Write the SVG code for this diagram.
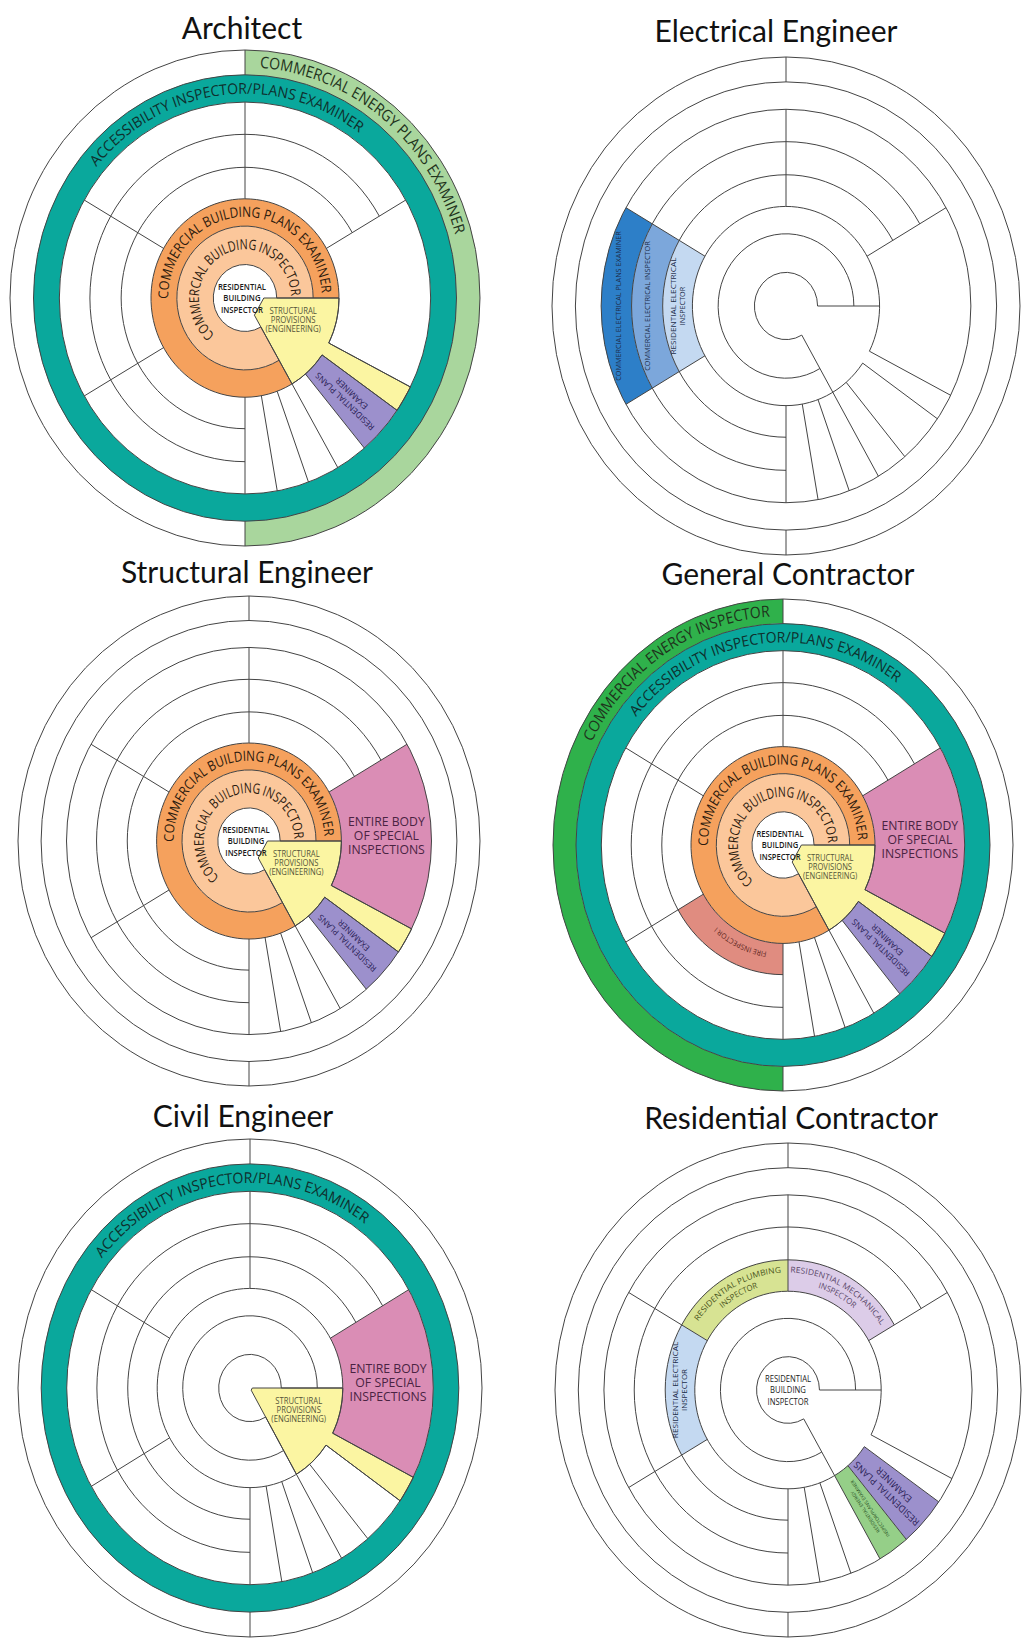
<svg xmlns="http://www.w3.org/2000/svg" width="1029" height="1648" viewBox="0 0 1029 1648">
<style>
.title{font-family:Lato,"Open Sans",sans-serif;font-size:30px;fill:#111;text-anchor:middle}
.ln circle,.ln path,.ed{fill:none;stroke:#444;stroke-width:1;vector-effect:non-scaling-stroke}
.b{fill:none;stroke-linecap:butt}
.lb{font-family:"Open Sans","Liberation Sans",sans-serif;text-anchor:middle}
.ctr{font-family:"Open Sans","Liberation Sans",sans-serif;font-weight:600;font-size:3.3px;fill:#1a1a1a;text-anchor:middle}
.cTeal{stroke:#0aa89c}
.cGr1{stroke:#a9d69d}
.cGr2{stroke:#2fb14b}
.cOr{stroke:#f5a15d}
.cLo{stroke:#fbc79b}
.cPu{stroke:#9c90cc}
.cPk{stroke:#da8db5}
.cFi{stroke:#e08c80}
.cB1{stroke:#2d7fc8}
.cB2{stroke:#7ca7db}
.cB3{stroke:#c4d9f1}
.cPl{stroke:#d7e393}
.cMe{stroke:#dccce8}
.cGn{stroke:#95cf88}
.yel{fill:#fbf5a2;stroke:#444;stroke-width:1;vector-effect:non-scaling-stroke}
.tAcc{font-size:6px;fill:#0f2f2d}
.tEn{font-size:6.4px;fill:#1f331c}
.tOr{font-size:5.8px;fill:#2b1a0e}
.tSt{font-size:3.3px;fill:#55553a}
.tPk{font-size:5.3px;fill:#4a2342}
.tPu{font-size:3.5px;fill:#2a2156}
.tBl{font-size:2.9px;fill:#1d2d4a}
</style>
<defs>
<g id="grid" class="ln">
<circle r="100"/><circle r="90"/><circle r="79"/>
<path d="M0,66 A66,66 0 1 1 57.16,-33 M0,52.7 A52.7,52.7 0 1 1 45.64,-26.35 M32.77,22.94 A40,40 0 1 1 35.64,18.16 M14.5,25.11 A29,29 0 1 1 29,0 M6.75,11.69 A13.5,13.5 0 1 1 13.5,0 M0,-100 L0,-90 M0,90 L0,100 M0,-79 L0,-40 M0,40 L0,79 M34.64,-20 L68.41,-39.5 M13.5,0 L40,0 M35.64,18.16 L70.39,35.87 M32.77,22.94 L64.72,45.31 M25.71,30.64 L50.78,60.51 M6.75,11.69 L39.5,68.41 M13.68,37.59 L27.02,74.24 M6.95,39.39 L13.72,77.8 M-34.64,20 L-68.41,39.5 M-34.64,-20 L-68.41,-39.5"/>
</g>
<path id="pEnR" d="M-61.02,-70.19 A93,93 0 0 1 81.34,45.09"/>
<path id="pEnL" d="M-85.36,36.93 A93,93 0 0 1 67.57,-63.9"/>
<path id="pAcc" d="M-82.28,-4.31 A82.4,82.4 0 0 1 78.8,-24.09"/>
<path id="pCbpe" d="M-31.98,6.8 A32.7,32.7 0 1 1 32.38,4.55"/>
<path id="pCbi" d="M-11.1,16.15 A19.6,19.6 0 1 1 19.54,1.54"/>
<path id="pT476" d="M-47.6,0 A47.6,47.6 0 0 1 47.6,0"/>
<path id="pT436" d="M-43.4,0 A43.4,43.4 0 0 1 43.4,0"/>
<path id="pB44" d="M44,0 A44,44 0 0 1 -44,0"/>
</defs>

<g id="architect">
<text class="title" x="242" y="39">Architect</text>
<g transform="translate(245,298) scale(2.35,2.48)">
<path class="b cGr1" d="M0,-95 A95,95 0 0 1 0,95" stroke-width="10"/>
<circle class="b cTeal" r="84.5" stroke-width="11"/>
<path class="b cOr" d="M17.25,29.88 A34.5,34.5 0 1 1 34.5,0" stroke-width="11"/>
<path class="b cLo" d="M10.63,18.4 A21.25,21.25 0 1 1 21.25,0" stroke-width="15.5"/>
<path class="b cPu" d="M48.74,34.13 A59.5,59.5 0 0 1 38.25,45.58" stroke-width="39"/>
<path class="yel" d="M8,0 L40,0 A40,40 0 0 1 35.64,18.16 L70.39,35.87 A79,79 0 0 1 64.72,45.31 L32.77,22.94 A40,40 0 0 1 20,34.64 L4,6.93 Z"/>
<use href="#grid"/>
<text class="lb tEn"><textPath href="#pEnR" startOffset="50%" textLength="114" lengthAdjust="spacingAndGlyphs">COMMERCIAL ENERGY PLANS EXAMINER</textPath></text>
<text class="lb tAcc"><textPath href="#pAcc" startOffset="50%" textLength="124" lengthAdjust="spacingAndGlyphs">ACCESSIBILITY INSPECTOR/PLANS EXAMINER</textPath></text>
<text class="lb tOr"><textPath href="#pCbpe" startOffset="50%" textLength="101" lengthAdjust="spacingAndGlyphs">COMMERCIAL BUILDING PLANS EXAMINER</textPath></text>
<text class="lb tOr"><textPath href="#pCbi" startOffset="50%" textLength="77" lengthAdjust="spacingAndGlyphs">COMMERCIAL BUILDING INSPECTOR</textPath></text>
<text class="ctr"><tspan x="-1.3" y="-3.4">RESIDENTIAL</tspan><tspan x="-1.3" y="1.4">BUILDING</tspan><tspan x="-1.3" y="6.2">INSPECTOR</tspan></text>
<text class="lb tSt"><tspan x="20.5" y="6.4">STRUCTURAL</tspan><tspan x="20.5" y="10.1">PROVISIONS</tspan><tspan x="20.5" y="13.8">(ENGINEERING)</tspan></text>
<text class="lb tPu" transform="translate(43.87,40.2) rotate(222.5)"><tspan x="0" y="-0.8">RESIDENTIAL PLANS</tspan><tspan x="0" y="3.5">EXAMINER</tspan></text>
</g>
</g>

<g id="electrical-engineer">
<text class="title" x="776" y="42">Electrical Engineer</text>
<g transform="translate(786,306) scale(2.34,2.49)">
<path class="b cB1" d="M-62.79,36.25 A72.5,72.5 0 0 1 -62.79,-36.25" stroke-width="13"/>
<path class="b cB2" d="M-51.4,29.68 A59.35,59.35 0 0 1 -51.4,-29.68" stroke-width="13.3"/>
<path class="b cB3" d="M-40.14,23.18 A46.35,46.35 0 0 1 -40.14,-23.18" stroke-width="12.7"/>
<use href="#grid"/>
<text class="lb tBl" transform="translate(-71.5,0) rotate(-90)"><tspan x="0" y="1" textLength="60" lengthAdjust="spacingAndGlyphs">COMMERCIAL ELECTRICAL PLANS EXAMINER</tspan></text>
<text class="lb tBl" transform="translate(-59,0) rotate(-90)"><tspan x="0" y="1" textLength="52" lengthAdjust="spacingAndGlyphs">COMMERCIAL ELECTRICAL INSPECTOR</tspan></text>
<text class="lb tBl" transform="translate(-46.35,0) rotate(-90)"><tspan x="0" y="-0.8" textLength="39" lengthAdjust="spacingAndGlyphs">RESIDENTIAL ELECTRICAL</tspan><tspan x="0" y="3">INSPECTOR</tspan></text>
</g>
</g>

<g id="structural-engineer">
<text class="title" x="247" y="583">Structural Engineer</text>
<g transform="translate(249,841) scale(2.31,2.45)">
<path class="b cOr" d="M17.25,29.88 A34.5,34.5 0 1 1 34.5,0" stroke-width="11"/>
<path class="b cLo" d="M10.63,18.4 A21.25,21.25 0 1 1 21.25,0" stroke-width="15.5"/>
<path class="b cPk" d="M51.53,-29.75 A59.5,59.5 0 0 1 53.01,27.01" stroke-width="39"/>
<path class="b cPu" d="M48.74,34.13 A59.5,59.5 0 0 1 38.25,45.58" stroke-width="39"/>
<path class="yel" d="M8,0 L40,0 A40,40 0 0 1 35.64,18.16 L70.39,35.87 A79,79 0 0 1 64.72,45.31 L32.77,22.94 A40,40 0 0 1 20,34.64 L4,6.93 Z"/>
<use href="#grid"/>
<text class="lb tOr"><textPath href="#pCbpe" startOffset="50%" textLength="101" lengthAdjust="spacingAndGlyphs">COMMERCIAL BUILDING PLANS EXAMINER</textPath></text>
<text class="lb tOr"><textPath href="#pCbi" startOffset="50%" textLength="77" lengthAdjust="spacingAndGlyphs">COMMERCIAL BUILDING INSPECTOR</textPath></text>
<text class="ctr"><tspan x="-1.3" y="-3.4">RESIDENTIAL</tspan><tspan x="-1.3" y="1.4">BUILDING</tspan><tspan x="-1.3" y="6.2">INSPECTOR</tspan></text>
<text class="lb tSt"><tspan x="20.5" y="6.4">STRUCTURAL</tspan><tspan x="20.5" y="10.1">PROVISIONS</tspan><tspan x="20.5" y="13.8">(ENGINEERING)</tspan></text>
<text class="lb tPk"><tspan x="59.5" y="-6.2">ENTIRE BODY</tspan><tspan x="59.5" y="-0.4">OF SPECIAL</tspan><tspan x="59.5" y="5.4">INSPECTIONS</tspan></text>
<text class="lb tPu" transform="translate(43.87,40.2) rotate(222.5)"><tspan x="0" y="-0.8">RESIDENTIAL PLANS</tspan><tspan x="0" y="3.5">EXAMINER</tspan></text>
</g>
</g>

<g id="general-contractor">
<text class="title" x="788" y="585">General Contractor</text>
<g transform="translate(783,845) scale(2.3,2.46)">
<path class="b cGr2" d="M0,95 A95,95 0 0 1 0,-95" stroke-width="10"/>
<circle class="b cTeal" r="84.5" stroke-width="11"/>
<path class="b cOr" d="M17.25,29.88 A34.5,34.5 0 1 1 34.5,0" stroke-width="11"/>
<path class="b cLo" d="M10.63,18.4 A21.25,21.25 0 1 1 21.25,0" stroke-width="15.5"/>
<path class="b cPk" d="M51.53,-29.75 A59.5,59.5 0 0 1 53.01,27.01" stroke-width="39"/>
<path class="b cPu" d="M48.74,34.13 A59.5,59.5 0 0 1 38.25,45.58" stroke-width="39"/>
<path class="b cFi" d="M0,46.35 A46.35,46.35 0 0 1 -40.14,23.18" stroke-width="12.7"/>
<path class="yel" d="M8,0 L40,0 A40,40 0 0 1 35.64,18.16 L70.39,35.87 A79,79 0 0 1 64.72,45.31 L32.77,22.94 A40,40 0 0 1 20,34.64 L4,6.93 Z"/>
<use href="#grid"/>
<text class="lb tEn"><textPath href="#pEnL" startOffset="50%" textLength="97" lengthAdjust="spacingAndGlyphs">COMMERCIAL ENERGY INSPECTOR</textPath></text>
<text class="lb tAcc"><textPath href="#pAcc" startOffset="50%" textLength="126" lengthAdjust="spacingAndGlyphs">ACCESSIBILITY INSPECTOR/PLANS EXAMINER</textPath></text>
<text class="lb tOr"><textPath href="#pCbpe" startOffset="50%" textLength="101" lengthAdjust="spacingAndGlyphs">COMMERCIAL BUILDING PLANS EXAMINER</textPath></text>
<text class="lb tOr"><textPath href="#pCbi" startOffset="50%" textLength="77" lengthAdjust="spacingAndGlyphs">COMMERCIAL BUILDING INSPECTOR</textPath></text>
<text class="ctr"><tspan x="-1.3" y="-3.4">RESIDENTIAL</tspan><tspan x="-1.3" y="1.4">BUILDING</tspan><tspan x="-1.3" y="6.2">INSPECTOR</tspan></text>
<text class="lb tSt"><tspan x="20.5" y="6.4">STRUCTURAL</tspan><tspan x="20.5" y="10.1">PROVISIONS</tspan><tspan x="20.5" y="13.8">(ENGINEERING)</tspan></text>
<text class="lb tPk"><tspan x="59.5" y="-6.2">ENTIRE BODY</tspan><tspan x="59.5" y="-0.4">OF SPECIAL</tspan><tspan x="59.5" y="5.4">INSPECTIONS</tspan></text>
<text class="lb tPu" transform="translate(43.87,40.2) rotate(222.5)"><tspan x="0" y="-0.8">RESIDENTIAL PLANS</tspan><tspan x="0" y="3.5">EXAMINER</tspan></text>
<text class="lb" font-size="3" fill="#5a2520"><textPath href="#pB44" startOffset="63.9%">FIRE INSPECTOR I</textPath></text>
</g>
</g>

<g id="civil-engineer">
<text class="title" x="243" y="1127">Civil Engineer</text>
<g transform="translate(250,1388) scale(2.32,2.49)">
<circle class="b cTeal" r="84.5" stroke-width="11"/>
<path class="b cPk" d="M51.53,-29.75 A59.5,59.5 0 0 1 53.01,27.01" stroke-width="39"/>
<path class="yel" d="M1,0 L40,0 A40,40 0 0 1 35.64,18.16 L70.39,35.87 A79,79 0 0 1 64.72,45.31 L32.77,22.94 A40,40 0 0 1 20,34.64 L0.5,0.87 Z"/>
<use href="#grid"/>
<text class="lb tAcc"><textPath href="#pAcc" startOffset="50%" textLength="126" lengthAdjust="spacingAndGlyphs">ACCESSIBILITY INSPECTOR/PLANS EXAMINER</textPath></text>
<text class="lb tSt"><tspan x="21" y="6.4">STRUCTURAL</tspan><tspan x="21" y="10.1">PROVISIONS</tspan><tspan x="21" y="13.8">(ENGINEERING)</tspan></text>
<text class="lb tPk"><tspan x="59.5" y="-6.2">ENTIRE BODY</tspan><tspan x="59.5" y="-0.4">OF SPECIAL</tspan><tspan x="59.5" y="5.4">INSPECTIONS</tspan></text>
</g>
</g>

<g id="residential-contractor">
<text class="title" x="791" y="1129">Residential Contractor</text>
<g transform="translate(788,1390) scale(2.33,2.47)">
<path class="b cPl" d="M-40.14,-23.18 A46.35,46.35 0 0 1 0,-46.35" stroke-width="12.7"/>
<path class="b cMe" d="M0,-46.35 A46.35,46.35 0 0 1 40.14,-23.18" stroke-width="12.7"/>
<path class="b cB3" d="M-40.14,23.18 A46.35,46.35 0 0 1 -40.14,-23.18" stroke-width="12.7"/>
<path class="b cPu" d="M48.74,34.13 A59.5,59.5 0 0 1 38.25,45.58" stroke-width="39"/>
<path class="b cGn" d="M38.25,45.58 A59.5,59.5 0 0 1 29.75,51.53" stroke-width="39"/>
<use href="#grid"/>
<text class="lb" font-size="3.3" fill="#4a5520"><textPath href="#pT476" startOffset="33.9%" textLength="42" lengthAdjust="spacingAndGlyphs">RESIDENTIAL PLUMBING</textPath></text>
<text class="lb" font-size="3.3" fill="#4a5520"><textPath href="#pT436" startOffset="33.9%">INSPECTOR</textPath></text>
<text class="lb" font-size="3.3" fill="#5a4868"><textPath href="#pT476" startOffset="66.1%" textLength="46" lengthAdjust="spacingAndGlyphs">RESIDENTIAL MECHANICAL</textPath></text>
<text class="lb" font-size="3.3" fill="#5a4868"><textPath href="#pT436" startOffset="66.1%">INSPECTOR</textPath></text>
<text class="lb" font-size="3.2" fill="#1d2d4a" transform="translate(-46.35,0) rotate(-90)"><tspan x="0" y="-0.8" textLength="39" lengthAdjust="spacingAndGlyphs">RESIDENTIAL ELECTRICAL</tspan><tspan x="0" y="3.1">INSPECTOR</tspan></text>
<text class="ctr" style="font-weight:400"><tspan x="0" y="-3.4">RESIDENTIAL</tspan><tspan x="0" y="1.4">BUILDING</tspan><tspan x="0" y="6.2">INSPECTOR</tspan></text>
<text class="lb" font-size="3.9" fill="#2a2156" transform="translate(43.87,40.2) rotate(222.5)"><tspan x="0" y="-1">RESIDENTIAL PLANS</tspan><tspan x="0" y="3.8">EXAMINER</tspan></text>
<text class="lb" font-size="2" fill="#1f4a1a" transform="translate(34.13,48.74) rotate(235)"><tspan x="0" y="-0.4">RESIDENTIAL ENERGY</tspan><tspan x="0" y="2.1">INSPECTOR/PLANS EXAMINER</tspan></text>
</g>
</g>
</svg>
